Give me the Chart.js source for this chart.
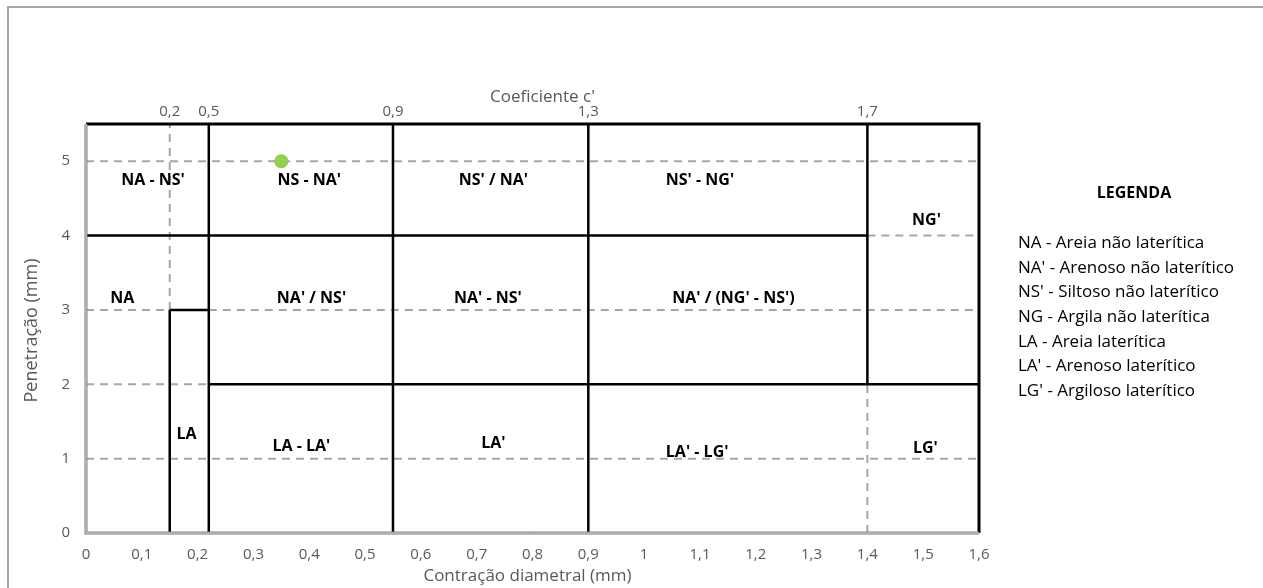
<!DOCTYPE html>
<html>
<head>
<meta charset="utf-8">
<script src="https://cdn.jsdelivr.net/npm/chart.js@4.4.0/dist/chart.umd.min.js"></script>
<style>
  html, body { margin: 0; padding: 0; background: #ffffff; }
  canvas { display: block; }
</style>
</head>
<body>
<canvas id="chart" width="1263" height="588"></canvas>
<script>
// Scale values
const xTickValues = [0, 0.1, 0.2, 0.3, 0.4, 0.5, 0.6, 0.7, 0.8, 0.9, 1, 1.1, 1.2, 1.3, 1.4, 1.5, 1.6];
const yTickValues = [0, 1, 2, 3, 4, 5];
const topTickValues = [0.15, 0.22, 0.55, 0.9, 1.4];
const topTickLabels = ['0,2', '0,5', '0,9', '1,3', '1,7'];

// Class boundaries: [x1, y1, x2, y2] in (contração, penetração)
const solidBoundaries = [
  [0.15, 0, 0.15, 3],
  [0.15, 3, 0.22, 3],
  [0.22, 0, 0.22, 5.5],
  [0.55, 0, 0.55, 5.5],
  [0.9, 0, 0.9, 5.5],
  [1.4, 2, 1.4, 5.5],
  [0, 4, 1.4, 4],
  [0.22, 2, 1.6, 2]
];
const dashedBoundaries = [
  [0, 5, 1.6, 5],
  [0, 3, 0.15, 3],
  [0.22, 3, 1.6, 3],
  [0, 2, 0.22, 2],
  [0, 1, 1.6, 1],
  [0.15, 3, 0.15, 5.5],
  [1.4, 0, 1.4, 2],
  [1.4, 4, 1.6, 4]
];

// Zone names and where they sit
const zoneNames = ["NA - NS'", "NS - NA'", "NS' / NA'", "NS' - NG'", "NG'",
                   "NA", "NA' / NS'", "NA' - NS'", "NA' / (NG' - NS')",
                   "LA", "LA - LA'", "LA'", "LA' - LG'", "LG'"];
const zoneX = [0.12, 0.40, 0.73, 1.10, 1.506,
               0.065, 0.404, 0.72, 1.16,
               0.18, 0.386, 0.73, 1.095, 1.504];
const zoneY = [4.74, 4.74, 4.74, 4.74, 4.2,
               3.16, 3.16, 3.16, 3.16,
               1.33, 1.16, 1.2, 1.08, 1.14];

// Sample
const sampleX = [0.35];
const sampleY = [5];

const legendTitle = 'LEGENDA';
const legendItems = [
  'NA - Areia não laterítica',
  "NA' - Arenoso não laterítico",
  "NS' - Siltoso não laterítico",
  'NG - Argila não laterítica',
  'LA - Areia laterítica',
  "LA' - Arenoso laterítico",
  "LG' - Argiloso laterítico"
];

const FONT = "'Open Sans', 'DejaVu Sans', sans-serif";
const GREY_TEXT = '#595959';

function segmentDataset(seg, dashed) {
  return {
    data: [{ x: seg[0], y: seg[1] }, { x: seg[2], y: seg[3] }],
    showLine: true,
    pointRadius: 0,
    pointHoverRadius: 0,
    borderColor: dashed ? '#a6a6a6' : '#000000',
    borderWidth: dashed ? 2 : 2.5,
    borderDash: dashed ? [8, 6] : [],
    borderCapStyle: 'butt',
    order: dashed ? 3 : 2,
    xAxisID: 'x',
    yAxisID: 'y'
  };
}

const datasets = [];
dashedBoundaries.forEach(s => datasets.push(segmentDataset(s, true)));
solidBoundaries.forEach(s => datasets.push(segmentDataset(s, false)));
datasets.push({
  data: sampleX.map((x, i) => ({ x: x, y: sampleY[i] })),
  showLine: false,
  pointRadius: 7,
  pointBackgroundColor: '#92d050',
  pointBorderColor: '#92d050',
  pointBorderWidth: 0,
  order: 1,
  xAxisID: 'x',
  yAxisID: 'y'
});

const decorations = {
  id: 'decorations',
  beforeDraw(chart) {
    const ctx = chart.ctx;
    ctx.save();
    ctx.strokeStyle = '#a6a6a6';
    ctx.lineWidth = 2;
    ctx.beginPath();
    ctx.moveTo(8, chart.height);
    ctx.lineTo(8, 7);
    ctx.lineTo(chart.width, 7);
    ctx.stroke();
    ctx.restore();
  },
  afterDatasetsDraw(chart) {
    const ctx = chart.ctx;
    const a = chart.chartArea;
    const xs = chart.scales.x, ys = chart.scales.y;
    ctx.save();
    // top and right frame
    ctx.strokeStyle = '#000000';
    ctx.lineWidth = 3;
    ctx.beginPath();
    ctx.moveTo(a.left, a.top);
    ctx.lineTo(a.right, a.top);
    ctx.lineTo(a.right, a.bottom);
    ctx.stroke();
    // left and bottom axis lines (double grey)
    ctx.strokeStyle = '#7f7f7f';
    ctx.lineWidth = 3;
    ctx.beginPath();
    ctx.moveTo(a.left, a.top);
    ctx.lineTo(a.left, a.bottom);
    ctx.lineTo(a.right, a.bottom);
    ctx.stroke();
    ctx.strokeStyle = '#dcdcdc';
    ctx.lineWidth = 1;
    ctx.beginPath();
    ctx.moveTo(a.left, a.top);
    ctx.lineTo(a.left, a.bottom);
    ctx.lineTo(a.right, a.bottom);
    ctx.stroke();
    // zone names
    ctx.fillStyle = '#000000';
    ctx.font = 'bold 16px ' + FONT;
    ctx.textAlign = 'center';
    ctx.textBaseline = 'middle';
    zoneNames.forEach((n, i) => {
      ctx.fillText(n, xs.getPixelForValue(zoneX[i]), ys.getPixelForValue(zoneY[i]));
    });
    ctx.restore();
  },
  afterDraw(chart) {
    const ctx = chart.ctx;
    const a = chart.chartArea;
    ctx.save();
    ctx.fillStyle = GREY_TEXT;
    ctx.textAlign = 'center';
    ctx.textBaseline = 'middle';
    ctx.font = '17px ' + FONT;
    const cx = (a.left + a.right) / 2;
    ctx.fillText('Coeficiente c\'', cx + 10, 97);
    ctx.fillText('Contração diametral (mm)', cx - 5, 576);
    ctx.translate(32, (a.top + a.bottom) / 2 + 2);
    ctx.rotate(-Math.PI / 2);
    ctx.font = '18px ' + FONT;
    ctx.fillText('Penetração (mm)', 0, 0);
    ctx.restore();

    // legend block
    ctx.save();
    ctx.fillStyle = '#000000';
    ctx.textBaseline = 'middle';
    ctx.textAlign = 'center';
    ctx.font = 'bold 16px ' + FONT;
    ctx.fillText(legendTitle, 1134, 193);
    ctx.textAlign = 'left';
    ctx.font = '17px ' + FONT;
    legendItems.forEach((t, i) => {
      ctx.fillText(t, 1018, 243 + i * 24.7);
    });
    ctx.restore();
  }
};

new Chart(document.getElementById('chart'), {
  type: 'scatter',
  data: { datasets: datasets },
  options: {
    responsive: false,
    animation: false,
    devicePixelRatio: 1,
    layout: { padding: { left: 0, right: 284, top: 0, bottom: 0 } },
    plugins: { legend: { display: false }, tooltip: { enabled: false } },
    scales: {
      x: {
        type: 'linear', position: 'bottom', min: 0, max: 1.6,
        afterBuildTicks: s => { s.ticks = xTickValues.map(v => ({ value: v })); },
        afterFit: s => { s.height = 55; },
        grid: { display: false, drawTicks: false },
        border: { display: false },
        ticks: {
          autoSkip: false, maxRotation: 0, padding: 13, color: GREY_TEXT,
          font: { family: FONT, size: 15 },
          callback: v => String(Number(v.toFixed(1))).replace('.', ',')
        }
      },
      x2: {
        type: 'linear', position: 'top', min: 0, max: 1.6,
        afterBuildTicks: s => { s.ticks = topTickValues.map(v => ({ value: v })); },
        afterFit: s => { s.height = 124; },
        grid: { display: false, drawTicks: false },
        border: { display: false },
        ticks: {
          autoSkip: false, maxRotation: 0, padding: 3, color: GREY_TEXT,
          font: { family: FONT, size: 15 },
          callback: (v, i) => topTickLabels[i]
        }
      },
      y: {
        type: 'linear', position: 'left', min: 0, max: 5.5,
        afterBuildTicks: s => { s.ticks = yTickValues.map(v => ({ value: v })); },
        afterFit: s => { s.width = 86; },
        grid: { display: false, drawTicks: false },
        border: { display: false },
        ticks: {
          autoSkip: false, padding: 16, color: GREY_TEXT,
          font: { family: FONT, size: 15 },
          callback: v => String(v)
        }
      }
    }
  },
  plugins: [decorations]
});
</script>
</body>
</html>
